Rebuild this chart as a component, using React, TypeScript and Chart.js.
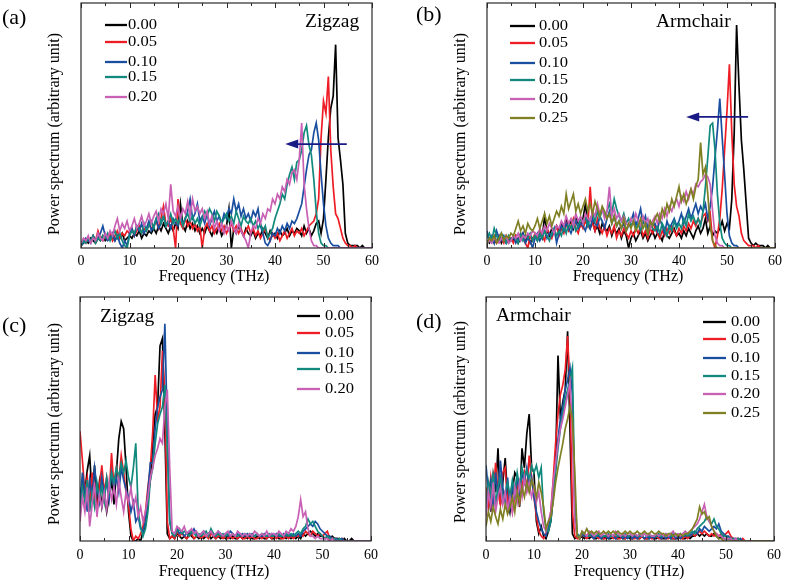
import React, { useEffect, useRef } from "react";
import { Chart, registerables } from "chart.js";

Chart.register(...registerables);

// ---------- data (power spectrum, % of panel height) ----------
const FREQ = [
  0, 0.5, 1, 1.5, 2, 2.5, 3, 3.5, 4, 4.5, 5, 5.5, 6, 6.5, 7, 7.5, 8, 8.5, 9, 9.5,
  10, 10.5, 11, 11.5, 12, 12.5, 13, 13.5, 14, 14.5, 15, 15.5, 16, 16.5, 17, 17.5, 18, 18.5, 19, 19.5,
  20, 20.5, 21, 21.5, 22, 22.5, 23, 23.5, 24, 24.5, 25, 25.5, 26, 26.5, 27, 27.5, 28, 28.5, 29, 29.5,
  30, 30.5, 31, 31.5, 32, 32.5, 33, 33.5, 34, 34.5, 35, 35.5, 36, 36.5, 37, 37.5, 38, 38.5, 39, 39.5,
  40, 40.5, 41, 41.5, 42, 42.5, 43, 43.5, 44, 44.5, 45, 45.5, 46, 46.5, 47, 47.5, 48, 48.5, 49, 49.5,
  50, 50.5, 51, 51.5, 52, 52.5, 53, 53.5, 54, 54.5, 55, 55.5, 56, 56.5, 57, 57.5, 58, 58.5, 59, 59.5,
  60,
];
const X_TICKS = [0, 10, 20, 30, 40, 50, 60];
const X_MINOR = [0, 5, 10, 15, 20, 25, 30, 35, 40, 45, 50, 55, 60];
const STRAIN_5 = ["0.00", "0.05", "0.10", "0.15", "0.20"];
const STRAIN_6 = ["0.00", "0.05", "0.10", "0.15", "0.20", "0.25"];

// (a) Zigzag, high frequency
const A_000 = [1,2,3,2,4,3,2,4,3,5, 3,4,6,4,3,5,4,6,3,4, 5,4,6,5,7,4,6,5,7,6, 8,6,9,7,10,8,6,9,7,10,
  8,18,9,7,11,8,10,7,9,6, 8,6,9,7,5,8,6,9,5,7, 9,16,0,8,6,9,7,5,8,6, 5,7,4,6,5,8,6,4,7,5,
  6,4,7,5,6,8,5,7,6,8, 7,5,9,6,8,5,7,10,11,6, 12,28,45,57,62,83,45,36,26,6, 2,1,1,1,1,0,1,0,0,0, 0];
const A_005 = [2,3,2,4,3,5,3,7,4,3, 5,4,6,3,5,7,4,6,5,7, 6,8,5,7,9,6,8,7,10,8, 9,11,8,12,17,10,9,12,8,0,
  20,10,8,12,9,11,8,10,7,9, 0,8,10,7,9,6,8,10,7,9, 6,8,10,7,9,6,8,5,7,9, 6,8,5,7,4,6,8,5,3,6,
  4,6,3,5,7,4,6,8,5,7, 6,8,5,7,9,10,11,14,20,45, 60,55,70,40,25,14,12,8,4,2, 1,1,0,1,0,0,0,0,0,0, 0];
const A_010 = [1,2,4,3,2,5,3,4,6,9, 5,3,4,6,3,5,2,0,3,1, 6,8,5,9,7,10,6,8,11,7, 9,12,8,10,13,9,11,8,12,10,
  9,13,10,12,15,20,12,14,18,11, 13,10,14,9,12,15,11,13,10,14, 12,16,14,20,15,18,13,16,12,14, 11,15,13,16,9,6,2,1,3,6,
  5,8,6,9,7,10,8,11,10,12, 15,18,25,32,38,40,47,51,44,30, 18,9,4,2,1,1,1,0,0,0, 0,0,0,0,0,0,0,0,0,0, 0];
const A_015 = [1,3,2,4,3,5,2,4,3,5, 4,6,3,5,7,4,6,3,1,0, 5,7,6,9,8,6,10,7,9,11, 8,12,14,10,13,9,11,14,10,12,
  10,13,9,12,14,11,13,10,12,9, 12,15,13,16,14,11,15,13,10,12, 14,11,13,10,15,12,9,13,11,10, 12,9,11,8,10,7,9,4,6,8,
  12,15,18,22,20,26,30,33,28,35, 36,40,47,50,42,38,28,15,6,2, 1,1,0,0,0,0,0,0,0,0, 0,0,0,0,0,0,0,0,0,0, 0];
const A_020 = [2,4,3,5,2,4,3,6,4,3, 6,4,7,5,9,12,7,10,8,11, 7,9,12,8,10,13,9,11,14,10, 13,15,11,16,14,18,12,26,15,13,
  17,12,16,14,19,13,20,15,17,14, 16,12,15,10,13,8,11,7,10,6, 9,7,11,8,6,10,7,5,3,0, 6,9,8,12,10,14,12,16,15,20,
  18,22,20,25,23,28,26,31,32,28, 36,51,26,16,8,3,1,1,0,0, 0,0,0,0,0,0,0,0,0,0, 0,0,0,0,0,0,0,0,0,0, 0];

// (b) Armchair, high frequency
const B_000 = [3,2,4,2,3,5,2,4,3,2, 4,3,5,2,4,6,3,5,2,4, 5,3,6,4,13,7,5,8,6,9, 7,10,8,12,9,11,8,13,10,9,
  12,18,10,8,11,7,9,6,10,8, 7,9,5,8,6,8,4,7,5,0, 4,6,3,5,7,4,6,3,5,7, 4,6,5,3,7,5,4,6,8,5,
  6,4,7,5,8,6,4,7,9,6, 8,12,6,9,5,7,6,8,11,7, 10,8,20,47,91,66,44,32,18,4, 2,1,2,1,1,1,0,1,0,0, 0];
const B_005 = [2,4,3,5,2,3,4,2,5,3, 4,2,5,3,6,4,2,0,5,3, 6,4,7,5,3,8,6,4,7,9, 5,8,6,10,7,9,12,8,6,10,
  8,11,9,25,10,7,12,8,6,9, 5,8,6,9,4,7,5,8,6,4, 7,5,8,6,9,5,7,4,8,6, 9,6,4,7,5,8,6,9,7,5,
  8,6,9,7,10,8,11,9,12,10, 13,14,11,14,3,0,5,12,24,40, 56,75,47,26,17,13,6,3,2,1, 1,1,0,1,0,0,0,0,0,0, 0];
const B_010 = [7,3,5,2,7,4,3,5,2,4, 3,5,2,4,3,6,2,4,3,0, 4,6,3,5,7,4,6,5,8,2, 6,9,7,10,8,6,9,11,8,10,
  9,7,11,8,12,10,9,13,11,8, 12,15,10,13,9,11,8,10,7,9, 11,14,9,12,16,10,13,8,11,9, 10,7,12,9,6,11,8,10,12,9,
  11,14,10,13,16,12,15,18,14,17, 15,18,12,17,25,37,48,61,45,30, 14,5,2,1,1,0,0,0,0,0, 0,0,0,0,0,0,0,0,0,0, 0];
const B_015 = [4,6,3,8,5,3,6,4,2,5, 3,5,4,2,6,3,5,4,6,3, 5,3,6,4,7,5,3,6,8,5, 7,5,9,6,10,8,11,7,9,12,
  10,13,9,12,14,11,15,12,16,13, 15,18,14,20,16,13,11,14,10,12, 9,11,8,10,7,12,9,6,10,8, 7,9,6,10,8,5,9,7,11,8,
  10,8,12,9,14,11,13,10,12,9, 15,25,37,50,51,40,22,10,4,2, 1,1,0,0,0,0,0,0,0,0, 0,0,0,0,0,0,0,0,0,0, 0];
const B_020 = [2,3,2,4,3,2,4,3,5,2, 3,5,4,6,3,5,4,6,5,7, 6,5,8,6,9,7,10,8,6,9, 8,11,9,13,10,12,9,14,11,13,
  10,14,12,11,15,13,18,14,16,12, 15,25,13,16,12,14,11,13,10,9, 12,10,14,11,9,13,10,12,8,11, 13,10,14,12,16,13,17,15,18,20,
  17,21,19,23,20,24,22,26,25,27, 28,30,29,26,15,5,2,1,1,0, 0,0,0,0,0,0,0,0,0,0, 0,0,0,0,0,0,0,0,0,0, 0];
const B_025 = [2,4,3,5,2,4,6,3,5,4, 6,5,8,11,7,9,6,10,8,7, 9,12,8,11,14,10,13,9,12,15, 13,17,14,22,16,19,22,15,18,14,
  17,20,15,18,14,19,16,13,17,15, 12,14,10,13,9,11,8,12,7,10, 8,11,7,9,12,8,10,6,11,9, 12,14,11,16,13,18,15,20,17,21,
  25,19,22,18,21,24,20,25,28,43, 30,33,22,9,3,1,0,0,0,0, 0,0,0,0,0,0,0,0,0,0, 0,0,0,0,0,0,0,0,0,0, 0];

// (c) Zigzag, low frequency
const C_000 = [18,24,20,29,35,18,31,15,24,14, 20,12,18,25,15,28,42,49,46,30, 12,2,0,0,1,0,4,6,18,25, 40,52,55,80,83,45,3,1,2,1,
  3,2,1,2,1,3,2,1,2,1, 2,1,2,3,1,2,1,2,1,2, 1,2,1,2,1,1,2,1,2,1, 2,1,1,2,1,2,1,1,2,1,
  1,2,1,1,2,1,2,1,2,1, 2,1,3,2,3,4,3,2,3,2, 2,1,2,1,2,1,1,1,0,1, 0,0,1,0,0,0,0,0,0,0, 0];
const C_005 = [45,33,20,26,14,28,18,12,22,31, 20,26,18,36,22,30,25,35,28,20, 15,5,0,2,1,3,6,12,22,30, 45,68,50,55,78,60,8,1,2,1,
  4,2,3,2,1,2,3,1,2,2, 1,2,2,1,3,2,1,2,2,1, 2,1,2,1,2,1,2,1,1,2, 1,2,1,1,2,1,2,1,2,1,
  2,1,2,1,1,2,1,2,1,2, 2,3,2,4,3,2,4,3,2,3, 2,3,4,1,1,1,1,0,1,0, 0,0,0,0,0,0,0,0,0,0, 0];
const C_010 = [15,28,20,12,25,18,30,22,16,26, 19,24,17,28,22,26,20,30,25,21, 18,12,16,8,10,5,4,8,20,32, 32,46,55,59,62,89,45,8,3,2,
  5,3,4,2,3,4,3,5,3,2, 3,4,2,3,4,3,2,4,3,2, 3,2,4,3,2,3,2,3,2,3, 2,3,2,3,2,2,3,2,2,3,
  2,3,2,2,3,2,3,2,3,2, 3,2,4,5,6,7,6,8,7,5, 4,3,2,2,1,1,1,0,1,0, 0,0,0,0,0,0,0,0,0,0, 0];
const C_015 = [10,22,16,25,12,20,14,24,18,22, 16,26,20,28,24,30,26,32,28,33, 26,22,30,40,12,6,2,5,12,25, 30,40,48,52,55,64,38,8,3,2,
  4,5,3,4,3,2,4,3,2,3, 2,3,4,2,5,3,2,3,2,3, 2,3,2,3,2,2,3,2,3,2, 3,2,2,3,2,3,2,2,3,2,
  2,2,3,2,2,3,2,3,2,3, 4,3,5,6,9,7,8,6,4,3, 2,1,2,1,1,1,0,1,0,0, 0,0,0,0,0,0,0,0,0,0, 0];
const C_020 = [8,18,12,22,6,15,24,10,19,14, 20,13,24,17,22,15,25,18,12,20, 16,22,14,18,10,14,8,12,18,26, 30,35,38,42,40,55,62,30,4,3,
  6,5,4,6,3,4,5,3,4,2, 3,4,2,3,4,2,3,4,3,2, 3,4,2,3,2,4,3,2,3,2, 3,2,4,3,2,3,2,4,2,3,
  3,2,4,3,2,4,3,5,4,6, 10,17,10,12,5,2,2,1,2,1, 1,1,1,0,1,0,0,0,0,0, 0,0,0,0,0,0,0,0,0,0, 0];

// (d) Armchair, low frequency
const D_000 = [16,22,12,27,20,38,15,24,34,18, 12,20,28,26,14,38,30,44,52,30, 28,8,3,6,2,1,4,8,18,32, 76,50,57,62,86,45,3,1,2,1,
  2,1,2,1,2,1,1,2,1,1, 2,1,1,2,1,1,2,1,1,2, 1,1,2,1,1,2,1,1,1,2, 1,1,2,1,1,1,2,1,1,1,
  1,2,1,1,2,1,2,2,3,2, 3,2,3,2,2,3,2,1,2,1, 1,1,1,1,0,1,0,0,0,0, 0,0,0,0,0,0,0,0,0,0, 0];
const D_005 = [22,14,26,18,32,20,15,28,30,16, 20,12,18,25,16,22,28,20,35,26, 18,10,4,2,1,3,6,12,25,40, 52,60,64,70,84,62,12,2,1,1,
  3,2,1,2,2,1,2,1,2,1, 1,2,2,1,2,1,1,2,1,2, 2,1,1,2,1,2,1,1,2,1, 1,2,1,1,2,1,1,2,1,1,
  2,1,1,2,1,2,3,2,3,4, 3,4,3,2,3,2,3,2,3,2, 3,4,2,1,1,1,0,1,0,0, 0,0,0,0,0,0,0,0,0,0, 0];
const D_010 = [31,20,25,14,28,18,33,22,16,26, 14,22,18,26,20,28,24,30,22,26, 18,12,8,5,3,2,6,10,20,30, 42,50,55,62,66,71,60,10,2,1,
  3,2,2,3,2,1,2,2,1,2, 2,1,2,2,1,2,2,1,2,1, 2,1,2,1,2,2,1,2,1,2, 1,2,2,1,2,1,2,1,3,1,
  2,1,2,2,3,2,3,4,3,5, 4,6,5,4,5,6,5,7,4,3, 2,2,1,1,1,0,1,0,0,0, 0,0,0,0,0,0,0,0,0,0, 0];
const D_015 = [12,24,18,28,15,22,26,16,20,24, 18,25,20,28,22,30,26,29,25,31, 28,31,26,30,12,5,4,8,18,28, 38,46,52,58,62,66,71,18,3,2,
  3,3,2,2,3,2,2,3,2,2, 2,3,2,2,3,2,2,2,3,2, 2,2,3,2,2,2,3,2,2,2, 2,2,3,2,2,3,2,2,2,3,
  2,3,2,3,2,3,4,3,5,6, 7,8,10,8,7,9,6,5,3,2, 2,1,1,1,0,1,0,0,0,0, 0,0,0,0,0,0,0,0,0,0, 0];
const D_020 = [10,20,14,24,12,18,22,15,20,13, 18,12,22,16,24,18,26,20,24,18, 22,16,20,12,6,4,8,12,24,32, 40,46,50,55,60,65,45,8,2,1,
  4,3,2,4,3,2,3,4,2,3, 3,2,3,2,4,3,2,3,2,3, 3,2,3,2,3,2,3,2,3,2, 2,3,2,3,2,3,2,3,4,2,
  3,2,3,4,3,4,5,6,7,9, 12,15,10,8,6,4,3,2,2,1, 1,1,1,0,1,0,0,0,0,0, 0,0,0,0,0,0,0,0,0,0, 0];
const D_025 = [6,12,8,14,10,7,13,9,15,11, 14,18,12,20,16,22,18,24,20,25, 22,18,24,20,14,5,8,10,16,24, 30,35,40,46,50,55,50,28,2,1,
  4,3,5,3,4,3,4,3,3,4, 3,4,3,4,3,4,3,3,4,3, 4,3,3,4,3,3,4,3,3,4, 3,3,4,3,3,2,3,3,2,3,
  2,3,2,3,3,4,5,7,9,14, 11,12,9,10,6,4,2,1,1,0, 0,0,0,0,0,0,0,0,0,0, 0,0,0,0,0,0,0,0,0,0, 0];

// ---------- styles ----------
const COLORS = ["#000000", "#ee1c25", "#1a4fa0", "#11897d", "#c860b4", "#7f7f23"];
const SERIF = '"Liberation Serif", "Times New Roman", Times, serif';
const ARROW_COLOR = "#1a1a86";

type PanelCfg = {
  x: number; y: number; w: number; h: number;
  area: { l: number; t: number; r: number; b: number };
  tickPad: number;
  series: number[][];
  names: string[];
  tag: string; tagPos: [number, number];
  title: string; titlePos: [number, number];
  legend: { x1: number; x2: number; tx: number; ys: number[] };
  yTitle: [number, number];
  xTitle: [number, number];
  arrow?: { from: number; to: number; y: number };
};

const PANELS: PanelCfg[] = [
  {
    x: 0, y: 0, w: 393, h: 290, area: { l: 81, t: 3, r: 372, b: 248 }, tickPad: 5,
    series: [A_000, A_005, A_010, A_015, A_020], names: STRAIN_5,
    tag: "(a)", tagPos: [2, 18], title: "Zigzag", titlePos: [305, 27],
    legend: { x1: 105, x2: 127, tx: 128, ys: [25, 42, 62, 77, 97] },
    yTitle: [55, 134], xTitle: [214, 277],
    arrow: { from: 54.8, to: 42.1, y: 42.4 },
  },
  {
    x: 393, y: 0, w: 394, h: 290, area: { l: 94, t: 3, r: 386, b: 248 }, tickPad: 5,
    series: [B_000, B_005, B_010, B_015, B_020, B_025], names: STRAIN_6,
    tag: "(b)", tagPos: [23, 15], title: "Armchair", titlePos: [263, 27],
    legend: { x1: 117, x2: 142, tx: 146, ys: [26, 43, 63, 80, 99, 118] },
    yTitle: [68, 134], xTitle: [235, 277],
    arrow: { from: 54.4, to: 41.5, y: 53.5 },
  },
  {
    x: 0, y: 290, w: 393, h: 293, area: { l: 80, t: 7, r: 371, b: 251 }, tickPad: 6,
    series: [C_000, C_005, C_010, C_015, C_020], names: STRAIN_5,
    tag: "(c)", tagPos: [2, 36], title: "Zigzag", titlePos: [100, 32],
    legend: { x1: 297, x2: 320, tx: 325, ys: [26, 43, 63, 79, 99] },
    yTitle: [55, 134], xTitle: [214, 282],
  },
  {
    x: 393, y: 290, w: 394, h: 293, area: { l: 93, t: 7, r: 383, b: 251 }, tickPad: 6,
    series: [D_000, D_005, D_010, D_015, D_020, D_025], names: STRAIN_6,
    tag: "(d)", tagPos: [23, 32], title: "Armchair", titlePos: [103, 31],
    legend: { x1: 310, x2: 333, tx: 338, ys: [32, 49, 68, 86, 104, 123] },
    yTitle: [68, 132], xTitle: [236, 282],
  },
];

function makeDecor(p: PanelCfg) {
  return {
    id: "decor",
    afterDatasetsDraw(chart: any) {
      const { ctx, chartArea: a, scales } = chart;
      const xs = scales.x;
      ctx.save();
      // frame
      ctx.strokeStyle = "#2a2a2a";
      ctx.lineWidth = 1.2;
      ctx.strokeRect(a.left, a.top, a.right - a.left, a.bottom - a.top);
      // inward ticks on top and bottom
      ctx.lineWidth = 1;
      ctx.beginPath();
      X_MINOR.forEach((v) => {
        const px = Math.round(xs.getPixelForValue(v)) + 0.5;
        const len = v % 10 === 0 ? 5 : 3;
        ctx.moveTo(px, a.top);
        ctx.lineTo(px, a.top + len);
        ctx.moveTo(px, a.bottom);
        ctx.lineTo(px, a.bottom - len);
      });
      ctx.stroke();
      // arrow
      if (p.arrow) {
        const ys = scales.y;
        const x1 = xs.getPixelForValue(p.arrow.from);
        const x2 = xs.getPixelForValue(p.arrow.to);
        const yy = ys.getPixelForValue(p.arrow.y);
        ctx.strokeStyle = ARROW_COLOR;
        ctx.fillStyle = ARROW_COLOR;
        ctx.lineWidth = 1.8;
        ctx.beginPath();
        ctx.moveTo(x1, yy);
        ctx.lineTo(x2 + 10, yy);
        ctx.stroke();
        ctx.beginPath();
        ctx.moveTo(x2, yy);
        ctx.lineTo(x2 + 13, yy - 4.5);
        ctx.lineTo(x2 + 13, yy + 4.5);
        ctx.closePath();
        ctx.fill();
      }
      ctx.restore();
    },
    afterDraw(chart: any) {
      const { ctx } = chart;
      ctx.save();
      ctx.fillStyle = "#000";
      // panel tag
      ctx.font = `22px ${SERIF}`;
      ctx.textAlign = "left";
      ctx.textBaseline = "middle";
      ctx.fillText(p.tag, p.tagPos[0], p.tagPos[1]);
      // orientation name
      ctx.font = `19.5px ${SERIF}`;
      ctx.textBaseline = "alphabetic";
      ctx.fillText(p.title, p.titlePos[0], p.titlePos[1]);
      // legend (text is slightly wide in the original figure)
      ctx.font = `14.5px ${SERIF}`;
      ctx.textBaseline = "middle";
      p.names.forEach((n, i) => {
        const y = p.legend.ys[i];
        ctx.strokeStyle = COLORS[i];
        ctx.lineWidth = 2.3;
        ctx.beginPath();
        ctx.moveTo(p.legend.x1, y);
        ctx.lineTo(p.legend.x2, y);
        ctx.stroke();
        ctx.save();
        ctx.translate(p.legend.tx, y + 0.5);
        ctx.scale(1.14, 1);
        ctx.fillStyle = "#000";
        ctx.fillText(n, 0, 0);
        ctx.restore();
      });
      // axis titles
      ctx.font = `16px ${SERIF}`;
      ctx.textAlign = "center";
      ctx.textBaseline = "middle";
      ctx.fillText("Frequency (THz)", p.xTitle[0], p.xTitle[1]);
      ctx.translate(p.yTitle[0], p.yTitle[1]);
      ctx.rotate(-Math.PI / 2);
      ctx.fillText("Power spectrum (arbitrary unit)", 0, 0);
      ctx.restore();
    },
  };
}

function Panel({ p }: { p: PanelCfg }) {
  const ref = useRef<HTMLCanvasElement | null>(null);
  useEffect(() => {
    if (!ref.current) return;
    const n = p.series.length;
    const datasets = p.series.map((vals, i) => ({
      label: p.names[i],
      data: FREQ.map((f, k) => ({ x: f, y: vals[k] })),
      borderColor: COLORS[i],
      backgroundColor: COLORS[i],
      borderWidth: 1.7,
      pointRadius: 0,
      tension: 0,
      fill: false,
      order: n - 1 - i,
    }));
    const chart = new Chart(ref.current, {
      type: "line",
      data: { datasets },
      options: {
        animation: false,
        responsive: false,
        events: [],
        layout: { padding: { left: p.area.l, top: p.area.t, right: p.w - p.area.r, bottom: 0 } },
        scales: {
          x: {
            type: "linear",
            min: 0,
            max: 60,
            afterFit: (s: any) => { s.height = p.h - p.area.b; },
            afterBuildTicks: (s: any) => { s.ticks = X_TICKS.map((v) => ({ value: v })); },
            grid: { display: false, drawTicks: false },
            border: { display: false },
            ticks: {
              color: "#000",
              padding: p.tickPad,
              maxRotation: 0,
              autoSkip: false,
              font: { family: SERIF, size: 14, lineHeight: 1.2 },
            },
          },
          y: { display: false, min: 0, max: 100 },
        },
        plugins: { legend: { display: false }, tooltip: { enabled: false }, title: { display: false } },
      } as any,
      plugins: [makeDecor(p)],
    });
    return () => chart.destroy();
  }, [p]);
  return (
    <canvas
      ref={ref}
      width={p.w}
      height={p.h}
      style={{ position: "absolute", left: p.x, top: p.y, width: p.w, height: p.h }}
    />
  );
}

export default function App() {
  return (
    <div style={{ position: "absolute", left: 0, top: 0, width: 787, height: 583, background: "#fff" }}>
      {PANELS.map((p) => (
        <Panel key={p.tag} p={p} />
      ))}
    </div>
  );
}
